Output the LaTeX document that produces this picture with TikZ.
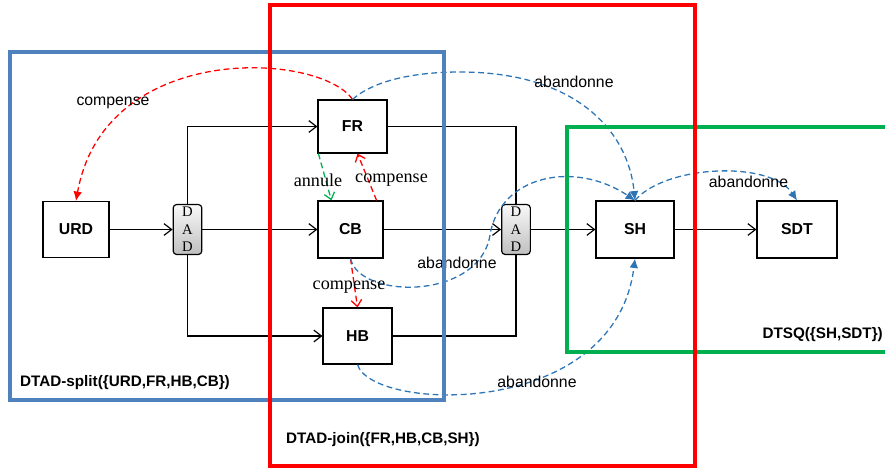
\documentclass[tikz,border=0pt]{standalone}
\usepackage{fontspec}
\setmainfont{Liberation Serif}
\setsansfont{Liberation Sans}
\usepackage{tikz}
\usetikzlibrary{positioning, arrows.meta, calc}

\definecolor{splitblue}{RGB}{79,129,189}
\definecolor{joinred}{RGB}{255,0,0}
\definecolor{sqgreen}{RGB}{0,176,80}
\definecolor{abandonblue}{RGB}{46,117,182}

\tikzset{
	block/.style={draw, rectangle, line width=1pt, inner sep=0pt, minimum width=2cm,
		minimum height=1.68cm, font=\sffamily\bfseries\fontsize{13.5}{16}\selectfont},
	dad/.style={draw, rounded corners=3pt, line width=1pt, inner sep=0pt, minimum width=0.86cm,
		minimum height=1.5cm, top color=gray!5, bottom color=gray!50, align=center,
		font=\fontsize{12.5}{15}\selectfont},
	flow/.style={line width=1pt, -{Straight Barb[length=6.5pt,width=10pt]}},
	wire/.style={line width=1pt},
	abandon/.style={abandonblue, line width=1.1pt, dash pattern=on 5pt off 3pt,
		-{Latex[length=8pt,width=7.5pt]}},
	compfill/.style={joinred, line width=1.1pt, dash pattern=on 5pt off 3pt,
		-{Latex[length=8pt,width=7.5pt]}},
	compopen/.style={joinred, line width=1.1pt, dash pattern=on 5pt off 3pt,
		-{Straight Barb[length=5.5pt,width=9pt]}},
	annul/.style={sqgreen, line width=1.1pt, dash pattern=on 5pt off 3pt,
		-{Straight Barb[length=5.5pt,width=9pt]}},
	sanslabel/.style={font=\sffamily\fontsize{13.5}{15}\selectfont, inner sep=1pt},
	seriflabel/.style={font=\fontsize{15.5}{17}\selectfont, inner sep=1pt},
	framelabel/.style={font=\sffamily\bfseries\fontsize{13}{15}\selectfont, inner sep=0pt},
	frame/.style={line width=3.8pt}
}

\begin{document}
\begin{tikzpicture}[x=0.03cm, y=-0.03cm]
	\useasboundingbox (0,0) rectangle (885,468);
	
	%Blocks
	\node (URD) at (76,229.5) [block, minimum width=1.98cm] {URD};
	\node (DADsplit) at (187.5,229.5) [dad] {D\\A\\D};
	\node (FR) at (352.5,126.5) [block, minimum width=2.07cm, minimum height=1.59cm] {FR};
	\node (CB) at (350.5,229.5) [block, minimum width=1.95cm, minimum height=1.71cm] {CB};
	\node (HB) at (357.5,336) [block, minimum width=2.07cm] {HB};
	\node (DADjoin) at (516,229.5) [dad] {D\\A\\D};
	\node (SH) at (635,229.5) [block, minimum width=2.34cm, minimum height=1.71cm] {SH};
	\node (SDT) at (797,229.5) [block, minimum width=2.4cm, minimum height=1.71cm] {SDT};
	
	%Links
	\draw[flow] (URD) -- (DADsplit);
	\draw[flow] (DADsplit) -- (CB);
	\draw[flow] (DADsplit.north) |- (FR.west);
	\draw[flow] (DADsplit.south) |- (HB.west);
	\draw[wire] (FR.east) -| (DADjoin.north);
	\draw[wire] (HB.east) -| (DADjoin.south);
	\draw[flow] (CB) -- (DADjoin);
	\draw[flow] (DADjoin) -- (SH);
	\draw[flow] (SH) -- (SDT);
	
	%Compensation, cancel and abandon
	\draw[compfill] (FR.north) .. controls (320,52) and (105,40) .. (URD.north);
	\draw[abandon] (FR.north) .. controls (372,82) and (410,72) .. (460,72)
		.. controls (575,72) and (628,130) .. (SH.north);
	\draw[annul] ($(FR.south west)+(1,0)$) -- ($(CB.north west)+(14,0)$);
	\draw[compopen] ($(CB.north east)+(-7,0)$) -- ($(FR.south)+(5,0)$);
	\draw[compopen] (CB.south) -- (HB.north);
	\draw[abandon] (CB.south) .. controls (360,300) and (480,300) .. (490,235)
		.. controls (500,175) and (575,160) .. (SH.north);
	\draw[abandon] (SH.north) .. controls (665,165) and (770,160) .. (SDT.north);
	\draw[abandon] (HB.south) .. controls (372,412) and (615,420) .. (SH.south);
	
	%Variables
	\node (lblCompURD) at (113,103) [sanslabel] {compense};
	\node (lblAbandonFR) at (574,82) [sanslabel] {abandonne};
	\node (lblAnnule) at (318,180) [seriflabel] {annule};
	\node (lblCompFR) at (391.5,180) [seriflabel] {compense};
	\node (lblCompHB) at (349,287) [seriflabel] {compense};
	\node (lblAbandonCB) at (457,263) [sanslabel] {abandonne};
	\node (lblAbandonSDT) at (748.5,182) [sanslabel] {abandonne};
	\node (lblAbandonHB) at (537,382) [sanslabel] {abandonne};
	
	%Frames
	\draw[frame, splitblue] (10,52) rectangle (444,400);
	\draw[frame, sqgreen] (567,127) rectangle (900,352);
	\draw[frame, joinred, line width=4.2pt] (270,5) rectangle (695,466);
	\node (lblSplit) at (20,383) [framelabel, anchor=west] {DTAD-split(\{URD,FR,HB,CB\})};
	\node (lblJoin) at (286,440) [framelabel, anchor=west] {DTAD-join(\{FR,HB,CB,SH\})};
	\node (lblSeq) at (883,335) [framelabel, anchor=east] {DTSQ(\{SH,SDT\})};
	
\end{tikzpicture}
\end{document}
